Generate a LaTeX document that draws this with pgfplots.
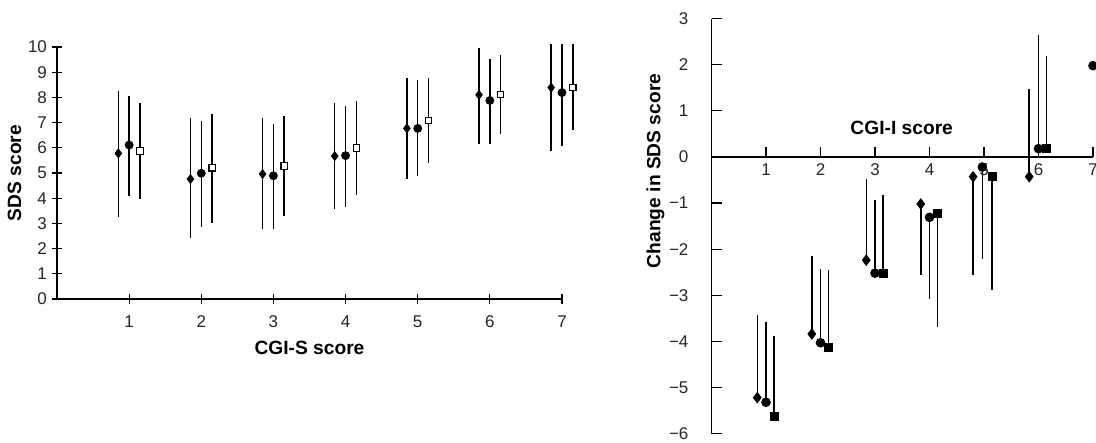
\documentclass[border=0pt]{standalone}
\usepackage{fontspec}
\setmainfont{Liberation Sans}
\usepackage{pgfplots}
\usepackage{pgfplotstable}
\pgfplotsset{compat=1.18}

% left panel: SDS score by CGI-S
\pgfplotstableread{
x y ep em
0.85 5.78 2.47 2.51
1.85 4.76 2.41 2.35
2.85 4.96 2.21 2.19
3.85 5.67 2.10 2.11
4.85 6.77 1.99 2.01
5.85 8.10 1.85 1.94
6.85 8.39 1.71 2.53
}\sdsdia
\pgfplotstableread{
x y ep em
1 6.11 1.95 2.01
2 4.99 2.07 2.12
3 4.89 2.04 2.12
4 5.69 1.97 2.03
5 6.77 1.91 1.89
6 7.88 1.66 1.72
7 8.19 1.91 2.11
}\sdscirc
\pgfplotstableread{
x y ep em
1.15 5.87 1.90 1.91
2.15 5.21 2.14 2.18
3.15 5.28 1.98 1.97
4.15 5.99 1.85 1.88
5.15 7.08 1.68 1.70
6.15 8.12 1.55 1.59
7.15 8.40 1.70 1.69
}\sdssq

% right panel: change in SDS by CGI-I
\pgfplotstableread{
x y ep em
0.84 -5.22 1.80 0
1.84 -3.84 1.69 0
2.84 -2.24 1.77 0
3.84 -1.02 0 1.53
4.80 -0.43 0 2.14
5.83 -0.43 1.90 0
}\chgdia
\pgfplotstableread{
x y ep em
1 -5.32 1.73 0
2 -4.03 1.59 0
3 -2.52 1.59 0
4 -1.31 0 1.77
4.97 -0.22 0 2.00
6 0.18 2.47 0
7 1.98 0 0
}\chgcirc
\pgfplotstableread{
x y ep em
1.15 -5.63 1.75 0
2.15 -4.13 1.67 0
3.15 -2.52 1.69 0
4.15 -1.22 0 2.47
5.15 -0.43 0 2.46
6.15 0.18 2.01 0
}\chgsq

\pgfplotsset{
  panel/.style={
    scale only axis,
    anchor=south west,
    clip=false,
    tick align=inside,
    major tick length=5pt,
    axis line style={line width=0.6pt, black},
    major tick style={line width=0.6pt, black},
    ticklabel style={font=\fontsize{8.5}{10}\selectfont, text=black!85},
    /pgf/number format/assume math mode=true,
    label style={font=\bfseries\fontsize{9.6}{11}\selectfont},
    error bars/error bar style={line width=0.75pt, black},
  },
  noarrows/.style={x axis line style={-}, y axis line style={-}},
  ebar/.style={only marks, black,
    /pgfplots/error bars/y dir=both,
    /pgfplots/error bars/y explicit,
    /pgfplots/error bars/error mark=none},
}

\begin{document}
\begin{tikzpicture}
\useasboundingbox (-28.5pt,-72pt) rectangle (519.5pt,149.5pt);

\begin{axis}[panel,
    at={(0pt,0pt)},
    width=252.5pt, height=126pt,
    xmin=0, xmax=7, ymin=0, ymax=10,
    axis lines=left, noarrows,
    xtick={1,...,7}, ytick={0,...,10},
    xticklabel style={yshift=-2.5pt},
    yticklabel style={xshift=1pt},
    xlabel={CGI-S score}, ylabel={SDS score},
    xlabel style={yshift=0.5pt},
    ylabel style={yshift=-3.5pt},
]
\addplot[ebar, mark=diamond*, mark size=2.2pt]
  table[x=x, y=y, y error plus=ep, y error minus=em] {\sdsdia};
\addplot[ebar, mark=*, mark size=2pt]
  table[x=x, y=y, y error plus=ep, y error minus=em] {\sdscirc};
\addplot[ebar, mark=square*, mark size=1.6pt, mark options={fill=white, draw=black, line width=0.6pt}]
  table[x=x, y=y, y error plus=ep, y error minus=em] {\sdssq};
\end{axis}

\begin{axis}[panel,
    at={(327.25pt,-67.3pt)},
    width=190.75pt, height=207.5pt,
    xmin=0, xmax=7, ymin=-6, ymax=3,
    axis x line=middle, axis y line=left, noarrows,
    tick align=inside,
    xtick={1,...,7}, ytick={-6,...,3},
    yticklabels={−6,−5,−4,−3,−2,−1,0,1,2,3},
    yticklabel style={xshift=-8pt},
    ylabel={Change in SDS score},
    ylabel style={at={(ticklabel cs:0.633)}, yshift=-4.5pt},
]
\addplot[ebar, mark=diamond*, mark size=2.6pt]
  table[x=x, y=y, y error plus=ep, y error minus=em] {\chgdia};
\addplot[ebar, mark=*, mark size=2.2pt]
  table[x=x, y=y, y error plus=ep, y error minus=em] {\chgcirc};
\addplot[ebar, mark=square*, mark size=2pt]
  table[x=x, y=y, y error plus=ep, y error minus=em] {\chgsq};
\node[font=\bfseries\fontsize{9.6}{11}\selectfont] at (axis cs:3.49,0.62) {CGI-I score};
\end{axis}
\end{tikzpicture}
\end{document}
